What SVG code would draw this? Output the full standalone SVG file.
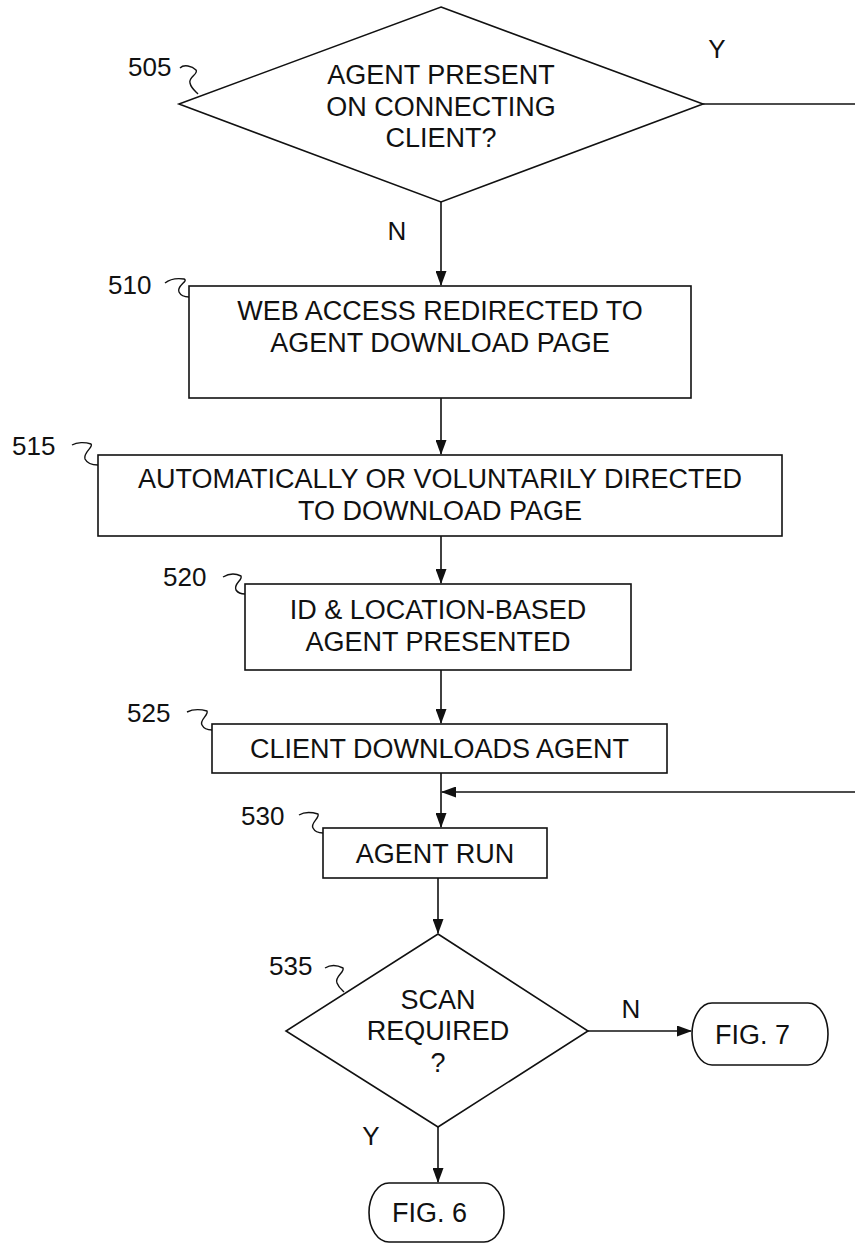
<svg xmlns="http://www.w3.org/2000/svg" width="855" height="1243" viewBox="0 0 855 1243">
  <style>
    .shape { fill: #fff; stroke: #111; stroke-width: 1.6; }
    .wire { fill: none; stroke: #111; stroke-width: 1.6; }
    .tick { fill: none; stroke: #111; stroke-width: 1.4; }
    .txt { font-family: "Liberation Sans", Arial, sans-serif; font-size: 27px; fill: #111; text-anchor: middle; }
    .ref { font-family: "Liberation Sans", Arial, sans-serif; font-size: 26px; fill: #111; }
  </style>
  <defs>
    <marker id="arrow" markerUnits="userSpaceOnUse" markerWidth="15" markerHeight="11" refX="14" refY="5.5" orient="auto">
      <path d="M0,0 L15,5.5 L0,11 z" fill="#111"/>
    </marker>
  </defs>

  <rect width="855" height="1243" fill="#fff"/>

  <!-- connectors -->
  <g id="connectors">
    <line class="wire" x1="441" y1="202" x2="441" y2="285" marker-end="url(#arrow)"/>
    <line class="wire" x1="703" y1="104" x2="855" y2="104"/>
    <line class="wire" x1="441" y1="398" x2="441" y2="454" marker-end="url(#arrow)"/>
    <line class="wire" x1="441" y1="536" x2="441" y2="583" marker-end="url(#arrow)"/>
    <line class="wire" x1="441" y1="670" x2="441" y2="723" marker-end="url(#arrow)"/>
    <line class="wire" x1="441" y1="773" x2="441" y2="827" marker-end="url(#arrow)"/>
    <line class="wire" x1="855" y1="792" x2="442" y2="792" marker-end="url(#arrow)"/>
    <line class="wire" x1="438" y1="878" x2="438" y2="933" marker-end="url(#arrow)"/>
    <line class="wire" x1="588" y1="1031" x2="691" y2="1031" marker-end="url(#arrow)"/>
    <line class="wire" x1="438" y1="1127" x2="438" y2="1182" marker-end="url(#arrow)"/>
    <text class="ref" x="717" y="58" text-anchor="middle">Y</text>
    <text class="ref" x="397" y="240" text-anchor="middle">N</text>
    <text class="ref" x="631" y="1018" text-anchor="middle">N</text>
    <text class="ref" x="371" y="1145" text-anchor="middle">Y</text>
  </g>

  <!-- 505: decision -->
  <g id="n505">
    <polygon class="shape" points="441,7 703,104 441,202 179,104"/>
    <text class="txt" x="441" y="84">AGENT PRESENT</text>
    <text class="txt" x="441" y="115.5">ON CONNECTING</text>
    <text class="txt" x="441" y="147">CLIENT?</text>
    <text class="ref" x="128" y="76">505</text>
    <path class="tick" d="M180,68 C184,64 192,66 196,70 C199,74 188,77 190,83 C191,88 195,91 198,94"/>
  </g>

  <!-- 510 -->
  <g id="n510">
    <rect class="shape" x="189" y="286" width="502" height="112"/>
    <text class="txt" x="440" y="320">WEB ACCESS REDIRECTED TO</text>
    <text class="txt" x="440" y="352">AGENT DOWNLOAD PAGE</text>
    <text class="ref" x="108" y="294">510</text>
    <path class="tick" d="M165,283 C170,279 177,278 184,279 C189,281 176,286 179,292 C181,296 185,297 189,297"/>
  </g>

  <!-- 515 -->
  <g id="n515">
    <rect class="shape" x="98" y="455" width="684" height="81"/>
    <text class="txt" x="440" y="488">AUTOMATICALLY OR VOLUNTARILY DIRECTED</text>
    <text class="txt" x="440" y="520">TO DOWNLOAD PAGE</text>
    <text class="ref" x="12" y="455">515</text>
    <path class="tick" d="M72,445 C77,442 85,442 91,444 C94,447 83,452 85,459 C87,463 92,465 98,465"/>
  </g>

  <!-- 520 -->
  <g id="n520">
    <rect class="shape" x="245" y="584" width="386" height="86"/>
    <text class="txt" x="438" y="619">ID &amp; LOCATION-BASED</text>
    <text class="txt" x="438" y="651">AGENT PRESENTED</text>
    <text class="ref" x="163" y="586">520</text>
    <path class="tick" d="M223,577 C228,574 235,573 241,576 C243,580 233,584 236,590 C238,593 242,594 245,594"/>
  </g>

  <!-- 525 -->
  <g id="n525">
    <rect class="shape" x="212" y="724" width="455" height="49"/>
    <text class="txt" x="439.5" y="758">CLIENT DOWNLOADS AGENT</text>
    <text class="ref" x="127" y="722">525</text>
    <path class="tick" d="M187,712 C193,709 200,709 207,711 C209,715 199,720 202,725 C204,729 208,730 212,730"/>
  </g>

  <!-- 530 -->
  <g id="n530">
    <rect class="shape" x="323" y="828" width="224" height="50"/>
    <text class="txt" x="435" y="863">AGENT RUN</text>
    <text class="ref" x="241" y="825">530</text>
    <path class="tick" d="M299,815 C304,812 311,812 318,814 C320,818 310,823 313,828 C315,832 319,833 323,833"/>
  </g>

  <!-- 535: decision -->
  <g id="n535">
    <polygon class="shape" points="438,934 588,1031 438,1127 286,1031"/>
    <text class="txt" x="438" y="1009">SCAN</text>
    <text class="txt" x="438" y="1040">REQUIRED</text>
    <text class="txt" x="438" y="1072">?</text>
    <text class="ref" x="269" y="975">535</text>
    <path class="tick" d="M325,968 C330,965 337,965 343,968 C345,972 334,977 337,983 C339,988 342,990 344,992"/>
  </g>

  <!-- off-page terminals -->
  <g id="fig7">
    <rect class="shape" x="692" y="1003" width="136" height="62" rx="20" ry="31"/>
    <text class="ref" x="715" y="1044" style="font-size:27px">FIG. 7</text>
  </g>
  <g id="fig6">
    <rect class="shape" x="369" y="1183" width="135" height="59" rx="20" ry="29.5"/>
    <text class="ref" x="392" y="1222" style="font-size:27px">FIG. 6</text>
  </g>
</svg>
